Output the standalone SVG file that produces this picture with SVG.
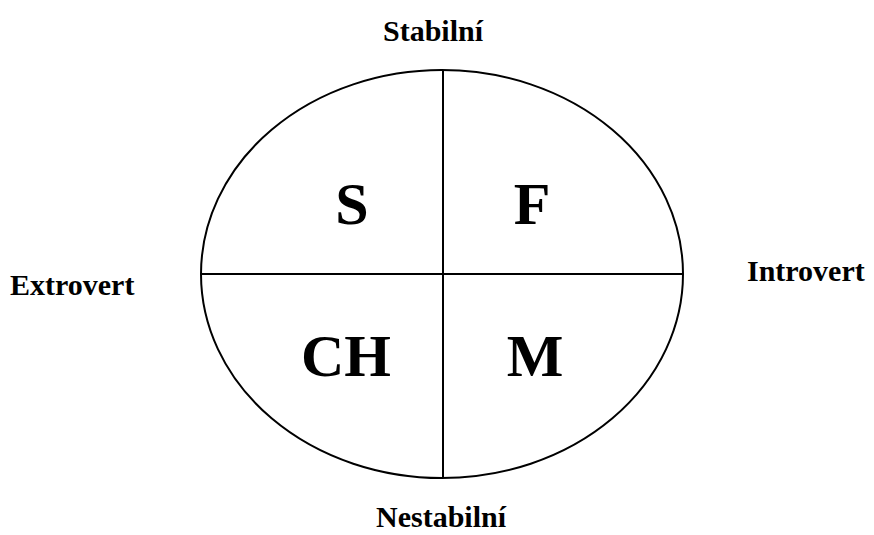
<svg xmlns="http://www.w3.org/2000/svg" width="874" height="535" viewBox="0 0 874 535">
<style>
.lbl{font-family:"Liberation Serif","Times New Roman",serif;font-weight:bold;fill:#000}
.side{font-size:30px}
.big{font-size:60px}
.ln{stroke:#000;stroke-width:2;fill:none}
</style>
<rect width="874" height="535" fill="#fff"/>
<g id="ellipse">
<ellipse class="ln" cx="442" cy="274" rx="241" ry="204"/>
</g>
<g id="connectors">
<line class="ln" x1="443" y1="70" x2="443" y2="478"/>
<line class="ln" x1="201" y1="274" x2="683" y2="274"/>
</g>
<g id="S"><text class="lbl big" x="352" y="224" text-anchor="middle">S</text></g>
<g id="F"><text class="lbl big" x="532" y="224" text-anchor="middle">F</text></g>
<g id="CH"><text class="lbl big" x="346" y="376" text-anchor="middle">CH</text></g>
<g id="M"><text class="lbl big" x="535" y="376" text-anchor="middle">M</text></g>
<g id="stabilni"><text class="lbl side" x="433" y="41" text-anchor="middle">Stabilní</text></g>
<g id="nestabilni"><text class="lbl side" x="441" y="527" text-anchor="middle">Nestabilní</text></g>
<g id="extrovert"><text class="lbl side" x="10" y="295">Extrovert</text></g>
<g id="introvert"><text class="lbl side" x="747" y="281">Introvert</text></g>
</svg>
